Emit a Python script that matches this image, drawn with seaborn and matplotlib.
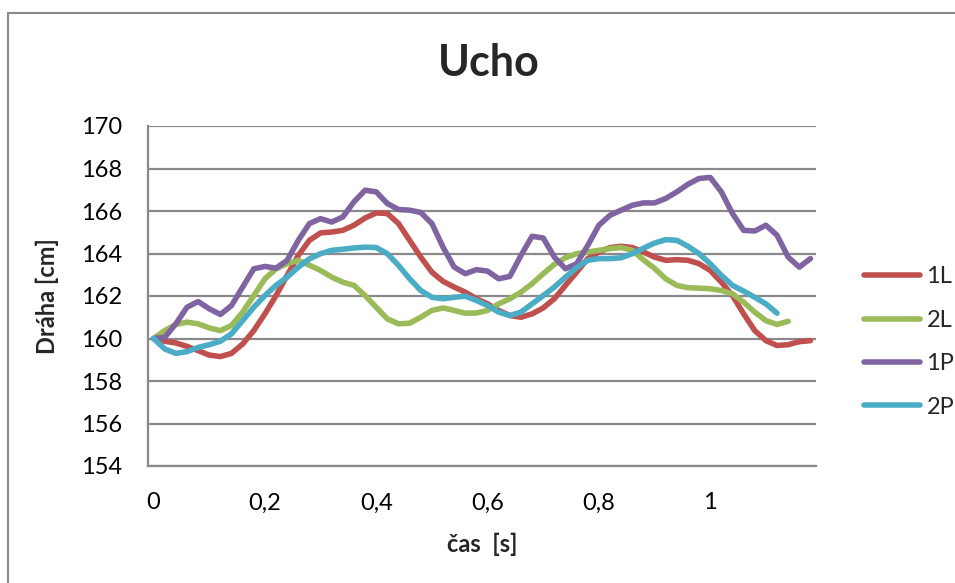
import numpy as np
import pandas as pd
import matplotlib
matplotlib.use("Agg")
import matplotlib.pyplot as plt
from matplotlib.patches import Rectangle
import seaborn as sns

step = 0.02
series_names = ["1L", "2L", "1P", "2P"]
colors = ["#C0504D", "#9BBB59", "#8064A2", "#4BACC6"]

y_1L = [160.0, 159.87, 159.79, 159.63, 159.43, 159.22, 159.15, 159.3, 159.74, 160.37,
        161.16, 162.02, 162.97, 163.91, 164.62, 164.97, 165.01, 165.09, 165.33, 165.67,
        165.91, 165.88, 165.41, 164.62, 163.83, 163.12, 162.69, 162.42, 162.18, 161.87,
        161.63, 161.32, 161.08, 161.0, 161.16, 161.44, 161.87, 162.5, 163.12, 163.76,
        164.07, 164.28, 164.34, 164.28, 164.07, 163.83, 163.68, 163.71, 163.68, 163.52,
        163.2, 162.65, 162.02, 161.16, 160.37, 159.9, 159.67, 159.71, 159.85, 159.9]
y_2L = [160.0, 160.37, 160.66, 160.77, 160.69, 160.5, 160.37, 160.61, 161.24, 162.02,
        162.81, 163.28, 163.52, 163.68, 163.45, 163.2, 162.89, 162.65, 162.5, 162.02,
        161.47, 160.92, 160.69, 160.72, 161.0, 161.32, 161.44, 161.32, 161.19, 161.2,
        161.32, 161.63, 161.87, 162.18, 162.58, 163.05, 163.49, 163.8, 163.99, 164.07,
        164.15, 164.23, 164.28, 164.15, 163.7, 163.3, 162.81, 162.5, 162.39, 162.37,
        162.34, 162.26, 162.1, 161.71, 161.24, 160.84, 160.66, 160.81]
y_1P = [160.0, 160.05, 160.69, 161.47, 161.74, 161.4, 161.13, 161.55, 162.42, 163.28,
        163.39, 163.31, 163.68, 164.62, 165.41, 165.64, 165.48, 165.72, 166.43, 166.98,
        166.9, 166.35, 166.07, 166.04, 165.93, 165.41, 164.3, 163.36, 163.05, 163.24,
        163.17, 162.81, 162.92, 163.91, 164.81, 164.73, 163.83, 163.28, 163.52, 164.38,
        165.33, 165.8, 166.04, 166.27, 166.38, 166.38, 166.59, 166.9, 167.26, 167.53,
        167.58, 166.9, 165.88, 165.09, 165.06, 165.33, 164.86, 163.83, 163.36, 163.76]
y_2P = [160.0, 159.51, 159.3, 159.38, 159.58, 159.71, 159.87, 160.22, 160.84, 161.47,
        162.02, 162.5, 162.89, 163.36, 163.75, 163.99, 164.15, 164.2, 164.26, 164.3,
        164.28, 163.99, 163.44, 162.81, 162.26, 161.94, 161.87, 161.94, 161.99, 161.79,
        161.55, 161.24, 161.08, 161.24, 161.63, 162.02, 162.42, 162.89, 163.33, 163.68,
        163.76, 163.76, 163.8, 163.99, 164.25, 164.49, 164.65, 164.62, 164.34, 163.99,
        163.52, 162.97, 162.5, 162.23, 161.94, 161.63, 161.19]

x_ticks = [0, 0.2, 0.4, 0.6, 0.8, 1.0]
x_tick_labels = ["0", "0,2", "0,4", "0,6", "0,8", "1"]
y_ticks = [154, 156, 158, 160, 162, 164, 166, 168, 170]

frames = []
for name, vals in zip(series_names, [y_1L, y_2L, y_1P, y_2P]):
    t = np.arange(len(vals)) * step
    frames.append(pd.DataFrame({"t": t, "v": vals, "series": name}))
df = pd.concat(frames, ignore_index=True)

sns.set_theme(style="white")
plt.rcParams["font.family"] = ["Lato", "DejaVu Sans"]

W, H = 955, 583
fig = plt.figure(figsize=(W / 100, H / 100), dpi=100)
ax = fig.add_axes([148 / W, 1 - 466 / H, (816 - 148) / W, (466 - 126) / H])

sns.lineplot(data=df, x="t", y="v", hue="series", hue_order=series_names,
             palette=colors, linewidth=4.0, ax=ax, sort=False, legend=True)

grid_c = "#898989"
ax.set_xlim(-0.01, 1.19)
ax.set_ylim(154, 170)
ax.set_yticks(y_ticks)
ax.set_yticklabels([str(v) for v in y_ticks])
ax.set_xticks(x_ticks)
ax.set_xticklabels(x_tick_labels)
ax.yaxis.grid(True, color=grid_c, linewidth=1.6)
ax.xaxis.grid(False)
ax.set_axisbelow(True)
for s in ["top", "right"]:
    ax.spines[s].set_visible(False)
for s in ["left", "bottom"]:
    ax.spines[s].set_color(grid_c)
    ax.spines[s].set_linewidth(1.6)
ax.tick_params(axis="y", length=6.5, width=1.6, color=grid_c, pad=12,
               labelsize=17, labelcolor="black")
ax.tick_params(axis="x", length=0, pad=19, labelsize=17, labelcolor="black")

ax.set_xlabel("čas  [s]", fontsize=17, fontweight="bold", labelpad=14)
ax.set_ylabel("Dráha [cm]", fontsize=17, fontweight="bold", labelpad=16)

fig.text(489 / W, 1 - 63 / H, "Ucho", fontsize=31, fontweight="bold",
         ha="center", va="center")

handles, labels = ax.get_legend_handles_labels()
ax.legend_.remove()
leg = fig.legend(handles, labels, loc="center left",
                 bbox_to_anchor=(852 / W, 1 - 342 / H), frameon=False,
                 fontsize=17, handlelength=2.4, handletextpad=0.25,
                 labelspacing=0.95, borderpad=0)
for line in leg.get_lines():
    line.set_linewidth(4.0)
    line.set_solid_capstyle("round")

fig.patches.append(Rectangle((8 / W, -0.1), 1.2, 1 - 13 / H + 0.1,
                             transform=fig.transFigure, fill=False,
                             edgecolor="#8a8a8a", linewidth=1.5))

fig.savefig("out.png", dpi=100)
